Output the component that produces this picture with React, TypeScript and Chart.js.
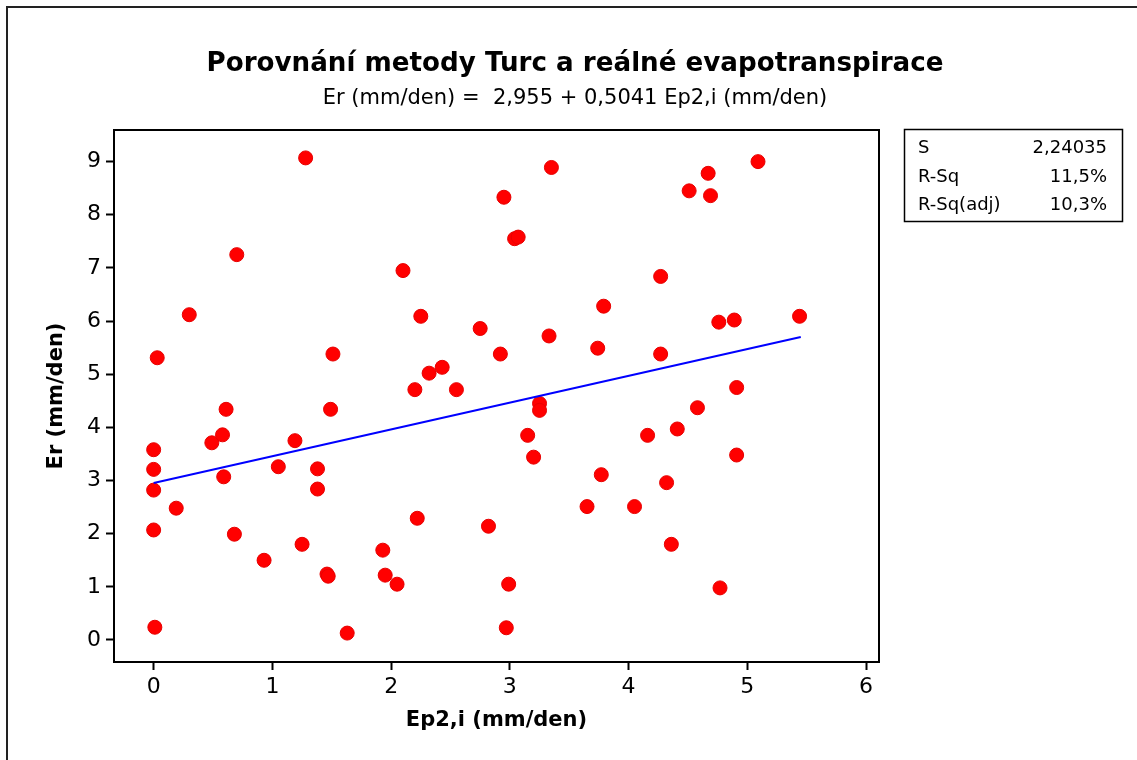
import { useEffect, useRef } from "react";
import { Chart, registerables } from "chart.js";

Chart.register(...registerables);

// Ep2,i (mm/den) values of observed points
const epValues = [
  1.28, 0.70, 0.30, 0.03, 1.51,
  0.61, 1.49, 0.00, 0.00, 0.00, 0.19, 0.00, 0.01, 0.49, 0.58, 0.59, 0.68, 0.93, 1.05, 1.19, 1.25, 1.38, 1.38, 1.46, 1.47, 1.63,
  3.35, 2.95, 3.04, 3.07, 2.10, 2.25, 2.75, 3.33, 3.79, 3.74, 2.92, 2.32, 2.43, 2.20, 2.55,
  3.25, 3.25, 3.15, 3.20, 3.77, 3.65, 4.05, 2.22, 2.82, 1.93, 1.95, 2.05, 2.99, 2.97,
  5.09, 4.67, 4.51, 4.69, 4.27, 4.76, 4.89, 5.44, 4.27, 4.91,
  4.58, 4.41, 4.16, 4.91, 4.32, 4.36, 4.77,
];
// Er (mm/den) values of observed points
const erValues = [
  9.07, 7.25, 6.12, 5.31, 5.38,
  4.34, 4.34, 3.58, 3.21, 2.82, 2.48, 2.07, 0.24, 3.71, 3.86, 3.07, 1.99, 1.50, 3.26, 3.75, 1.80, 3.22, 2.84, 1.24, 1.20, 0.13,
  8.89, 8.33, 7.55, 7.58, 6.95, 6.09, 5.86, 5.72, 6.28, 5.49, 5.38, 5.02, 5.13, 4.71, 4.71,
  4.45, 4.32, 3.85, 3.44, 3.11, 2.51, 2.51, 2.29, 2.14, 1.69, 1.22, 1.05, 1.05, 0.23,
  9.00, 8.78, 8.45, 8.36, 6.84, 5.98, 6.02, 6.09, 5.38, 4.75,
  4.37, 3.97, 3.85, 3.48, 2.96, 1.80, 0.98,
];
// Fitted regression line endpoints
const fitX = [0, 5.45];
const fitY = [2.955, 5.702];

const xTicks = [0, 1, 2, 3, 4, 5, 6];
const yTicks = [0, 1, 2, 3, 4, 5, 6, 7, 8, 9];

const titleText = "Porovnání metody Turc a reálné evapotranspirace";
const subtitleText = "Er (mm/den) =  2,955 + 0,5041 Ep2,i (mm/den)";
const xTitle = "Ep2,i (mm/den)";
const yTitle = "Er (mm/den)";
const statLabels = ["S", "R-Sq", "R-Sq(adj)"];
const statValues = ["2,24035", "11,5%", "10,3%"];

const FONT = "'DejaVu Sans', Verdana, sans-serif";

const decorPlugin = {
  id: "decor",
  beforeDraw(chart: any) {
    const ctx = chart.ctx;
    ctx.save();
    ctx.fillStyle = "#ffffff";
    ctx.fillRect(0, 0, chart.width, chart.height);
    ctx.strokeStyle = "#222222";
    ctx.lineWidth = 2;
    ctx.beginPath();
    ctx.moveTo(7, chart.height + 2);
    ctx.lineTo(7, 7);
    ctx.lineTo(chart.width + 2, 7);
    ctx.stroke();
    ctx.restore();
  },
  afterDraw(chart: any) {
    const ctx = chart.ctx;
    const a = chart.chartArea;
    ctx.save();
    ctx.strokeStyle = "#000000";
    ctx.lineWidth = 2;
    ctx.strokeRect(a.left, a.top, a.right - a.left, a.bottom - a.top);

    ctx.fillStyle = "#000000";
    ctx.textAlign = "center";
    ctx.textBaseline = "alphabetic";
    ctx.font = `bold 27px ${FONT}`;
    ctx.fillText(titleText, 575, 71, 737);
    ctx.font = `21px ${FONT}`;
    ctx.fillText(subtitleText, 575, 104, 547);

    ctx.lineWidth = 1.5;
    ctx.strokeRect(904.5, 129.5, 218, 92);
    ctx.font = `18px ${FONT}`;
    ctx.textBaseline = "middle";
    const rowY = [148, 177, 205];
    statLabels.forEach((lbl, i) => {
      ctx.textAlign = "left";
      ctx.fillText(lbl, 918, rowY[i]);
      ctx.textAlign = "right";
      ctx.fillText(statValues[i], 1107, rowY[i]);
    });
    ctx.restore();
  },
};

export default function App() {
  const canvasRef = useRef<HTMLCanvasElement | null>(null);

  useEffect(() => {
    document.body.style.margin = "0";
    const canvas = canvasRef.current;
    if (!canvas) return;
    const points = epValues.map((x, i) => ({ x, y: erValues[i] }));
    const fit = fitX.map((x, i) => ({ x, y: fitY[i] }));

    const chart = new Chart(canvas, {
      type: "scatter",
      data: {
        datasets: [
          {
            data: points,
            pointRadius: 7,
            pointHoverRadius: 7,
            backgroundColor: "#ff0000",
            borderColor: "#e80000",
            borderWidth: 1,
            order: 2,
          },
          {
            data: fit,
            showLine: true,
            borderColor: "#0000ff",
            borderWidth: 2,
            pointRadius: 0,
            fill: false,
            order: 1,
          } as any,
        ],
      },
      options: {
        responsive: false,
        animation: false,
        devicePixelRatio: 1,
        layout: { padding: { left: 0, top: 130, right: 258, bottom: 0 } },
        plugins: {
          legend: { display: false },
          tooltip: { enabled: false },
          title: { display: false },
        },
        scales: {
          x: {
            type: "linear",
            min: -0.334,
            max: 6.109,
            afterBuildTicks: (s: any) => {
              s.ticks = xTicks.map((v) => ({ value: v }));
            },
            afterFit: (s: any) => {
              s.height = 98;
            },
            grid: {
              drawOnChartArea: false,
              drawTicks: true,
              tickLength: 8,
              tickWidth: 2,
              tickColor: "#000000",
            },
            border: { display: true, color: "#000000", width: 2 },
            ticks: {
              color: "#000000",
              font: { family: FONT, size: 22 },
              padding: 4,
              maxRotation: 0,
              callback: (v: any) => String(v),
            },
            title: {
              display: true,
              text: xTitle,
              color: "#000000",
              font: { family: FONT, size: 21, weight: "bold" },
              padding: { top: 0, bottom: 27 },
            },
          },
          y: {
            type: "linear",
            min: -0.414,
            max: 9.595,
            afterBuildTicks: (s: any) => {
              s.ticks = yTicks.map((v) => ({ value: v }));
            },
            afterFit: (s: any) => {
              s.width = 114;
            },
            grid: {
              drawOnChartArea: false,
              drawTicks: true,
              tickLength: 8,
              tickWidth: 2,
              tickColor: "#000000",
            },
            border: { display: true, color: "#000000", width: 2 },
            ticks: {
              color: "#000000",
              font: { family: FONT, size: 22 },
              padding: 5,
              callback: (v: any) => String(v),
            },
            title: {
              display: true,
              text: yTitle,
              color: "#000000",
              font: { family: FONT, size: 21, weight: "bold" },
              padding: { top: 44, bottom: 0 },
            },
          },
        },
      },
      plugins: [decorPlugin],
    });

    return () => {
      chart.destroy();
    };
  }, []);

  return (
    <div style={{ position: "absolute", left: 0, top: 0, width: 1137, height: 760 }}>
      <canvas ref={canvasRef} width={1137} height={760} style={{ display: "block" }} />
    </div>
  );
}
